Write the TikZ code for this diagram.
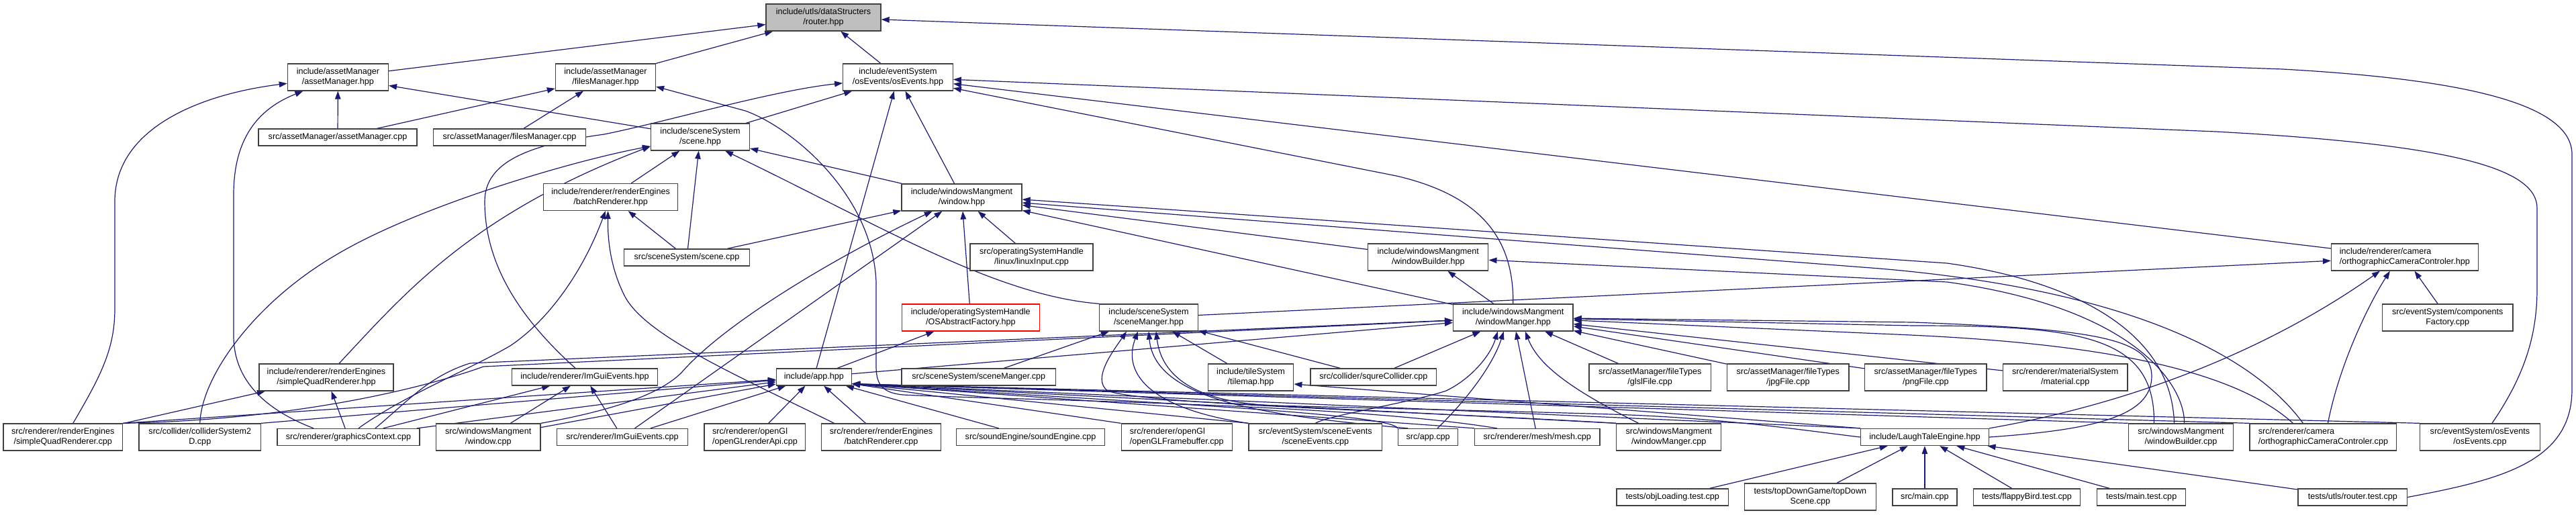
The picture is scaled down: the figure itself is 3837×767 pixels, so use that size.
\documentclass[tikz,border=0pt]{standalone}
\usepackage{fontspec}
\setmainfont{Liberation Sans}
\usetikzlibrary{arrows.meta}
\definecolor{edgeblue}{HTML}{191970}
\definecolor{nodegray}{HTML}{404040}
\definecolor{rootfill}{HTML}{BFBFBF}
\pgfdeclarelayer{bg}
\pgfsetlayers{bg,main}
\begin{document}
\begin{tikzpicture}[x=1pt,y=-1pt,
  nd/.style={draw=nodegray, line width=1.3pt, fill=white, inner sep=0pt, align=center, text=black, font=\fontsize{12.6}{15}\selectfont},
  ndl/.style={nd, align=left},
  one/.style={minimum height=25pt},
  two/.style={minimum height=40pt},
  edgeln/.style={draw=edgeblue, line width=1.2pt, -{Triangle[length=12pt,width=8.5pt]}},
]
\useasboundingbox (0,0) rectangle (3837,767);

% ---------- nodes ----------
\node[nd,two,fill=rootfill,minimum width=171pt] (router) at (1226.5,26) {include/utls/dataStructers\\/router.hpp};
\node[nd,two,minimum width=150pt] (assetH) at (503.4,115) {include/assetManager\\/assetManager.hpp};
\node[nd,two,minimum width=149pt] (filesH) at (902,115) {include/assetManager\\/filesManager.hpp};
\node[nd,two,minimum width=163.5pt] (osevH) at (1337.5,115) {include/eventSystem\\/osEvents/osEvents.hpp};
\node[nd,one,minimum width=236pt] (assetC) at (503,204.5) {src/assetManager/assetManager.cpp};
\node[nd,one,minimum width=227pt] (filesC) at (759,204.5) {src/assetManager/filesManager.cpp};
\node[nd,two,minimum width=147pt] (sceneH) at (1043,204) {include/sceneSystem\\/scene.hpp};
\node[nd,two,minimum width=200pt] (batchH) at (909.6,293.5) {include/renderer/renderEngines\\/batchRenderer.hpp};
\node[nd,one,minimum width=187pt] (sceneC) at (1023,383.5) {src/sceneSystem/scene.cpp};
\node[nd,two,minimum width=179pt] (windowH) at (1432.5,294) {include/windowsMangment\\/window.hpp};
\node[nd,two,minimum width=183pt] (linuxC) at (1536.5,383) {src/operatingSystemHandle\\/linux/linuxInput.cpp};
\node[nd,two,minimum width=179pt] (wbuildH) at (2127.3,383) {include/windowsMangment\\/windowBuilder.hpp};
\node[ndl,two,minimum width=218.7pt] (orthoH) at (3581.9,383) {include/renderer/camera\\/orthographicCameraControler.hpp};
\node[nd,two,draw=red,minimum width=205pt] (osafH) at (1445.8,473) {include/operatingSystemHandle\\/OSAbstractFactory.hpp};
\node[nd,two,minimum width=146.4pt] (scmgrH) at (1711,473) {include/sceneSystem\\/sceneManger.hpp};
\node[nd,two,minimum width=178.5pt] (wmgrH) at (2253.8,473) {include/windowsMangment\\/windowManger.hpp};
\node[nd,two,minimum width=194.8pt] (compC) at (3645.7,473) {src/eventSystem/components\\Factory.cpp};
\node[nd,two,minimum width=200pt] (sqrH) at (486,562) {include/renderer/renderEngines\\/simpleQuadRenderer.hpp};
\node[nd,one,minimum width=217pt] (imguiH) at (871,561.5) {include/renderer/ImGuiEvents.hpp};
\node[nd,one,minimum width=112pt] (appH) at (1212.4,561.5) {include/app.hpp};
\node[nd,one,minimum width=229.4pt] (scmgrC) at (1457.8,561.5) {src/sceneSystem/sceneManger.cpp};
\node[nd,two,minimum width=127.5pt] (tileH) at (1863,562) {include/tileSystem\\/tilemap.hpp};
\node[nd,one,minimum width=187.7pt] (squreC) at (2045.9,561.5) {src/collider/squreCollider.cpp};
\node[nd,two,minimum width=181.4pt] (glslC) at (2457.7,562) {src/assetManager/fileTypes\\/glslFile.cpp};
\node[nd,two,minimum width=181.4pt] (jpgC) at (2663.3,562) {src/assetManager/fileTypes\\/jpgFile.cpp};
\node[nd,two,minimum width=181.4pt] (pngC) at (2868.3,562) {src/assetManager/fileTypes\\/pngFile.cpp};
\node[nd,two,minimum width=185.6pt] (matC) at (3076.2,562) {src/renderer/materialSystem\\/material.cpp};
\node[nd,two,minimum width=177.7pt] (sqrC) at (93.8,651) {src/renderer/renderEngines\\/simpleQuadRenderer.cpp};
\node[nd,two,minimum width=181.5pt] (collC) at (297.8,651) {src/collider/colliderSystem2\\D.cpp};
\node[nd,one,minimum width=212pt] (gfxC) at (519,651) {src/renderer/graphicsContext.cpp};
\node[nd,two,minimum width=155.7pt] (winC) at (727.2,651) {src/windowsMangment\\/window.cpp};
\node[nd,one,minimum width=194.5pt] (imguiC) at (927,651) {src/renderer/ImGuiEvents.cpp};
\node[ndl,two,minimum width=150.8pt] (oglApiC) at (1124.4,651) {src/renderer/openGl\\/openGLrenderApi.cpp};
\node[nd,two,minimum width=177.4pt] (batchC) at (1312.5,651) {src/renderer/renderEngines\\/batchRenderer.cpp};
\node[nd,one,minimum width=220.6pt] (soundC) at (1535.1,651) {src/soundEngine/soundEngine.cpp};
\node[ndl,two,minimum width=165pt] (oglFbC) at (1752.7,651) {src/renderer/openGl\\/openGLFramebuffer.cpp};
\node[nd,two,minimum width=198.5pt] (scevC) at (1959.3,651) {src/eventSystem/sceneEvents\\/sceneEvents.cpp};
\node[nd,one,minimum width=89.2pt] (appC) at (2127.1,651) {src/app.cpp};
\node[nd,one,minimum width=186.5pt] (meshC) at (2289.8,651) {src/renderer/mesh/mesh.cpp};
\node[nd,two,minimum width=155.8pt] (wmgrC) at (2485.7,651) {src/windowsMangment\\/windowManger.cpp};
\node[nd,one,minimum width=191pt] (lteH) at (2866.9,651) {include/LaughTaleEngine.hpp};
\node[nd,two,minimum width=156.3pt] (wbuildC) at (3248.5,651) {src/windowsMangment\\/windowBuilder.cpp};
\node[ndl,two,minimum width=218.7pt] (orthoC) at (3460.4,651) {src/renderer/camera\\/orthographicCameraControler.cpp};
\node[nd,two,minimum width=179pt] (osevC) at (3693.9,651) {src/eventSystem/osEvents\\/osEvents.cpp};
\node[nd,one,minimum width=166.7pt] (objT) at (2491.2,740.5) {tests/objLoading.test.cpp};
\node[nd,two,minimum width=196pt] (tdsC) at (2696.4,740) {tests/topDownGame/topDown\\Scene.cpp};
\node[nd,one,minimum width=96pt] (mainC) at (2866.9,740.5) {src/main.cpp};
\node[nd,one,minimum width=159.6pt] (flapT) at (3019,740.5) {tests/flappyBird.test.cpp};
\node[nd,one,minimum width=132.2pt] (mainT) at (3189.7,740.5) {tests/main.test.cpp};
\node[nd,one,minimum width=162.6pt] (routerT) at (3504.3,740.5) {tests/utls/router.test.cpp};

% ---------- edges ----------
\begin{pgfonlayer}{bg}
% router.hpp
\draw[edgeln] (assetH) -- (router);
\draw[edgeln] (filesH) -- (router);
\draw[edgeln] (osevH) -- (router);
\draw[edgeln] (routerT.east) .. controls (3720,715) and (3831,690) .. (3831,580) -- (3831,230) .. controls (3831,150) and (3650,117) .. (3400,103) -- (router);
% assetManager.hpp
\draw[edgeln] (assetC) -- (assetH);
\draw[edgeln] (sceneH) -- (assetH);
\draw[edgeln] ([xshift=15pt]sqrC.north) .. controls (150,560) and (171,520) .. (171,460) -- (171,300) .. controls (171,190) and (300,140) .. (assetH);
\draw[edgeln] ([xshift=-52pt]gfxC.north) .. controls (400,612) and (348,570) .. (348,500) -- (348,290) .. controls (348,200) and (390,160) .. (assetH);
% filesManager.hpp
\draw[edgeln] (assetC) -- (filesH);
\draw[edgeln] (filesC) -- (filesH);
\draw[edgeln] ([xshift=-60pt]meshC.north) .. controls (2000,600) and (1500,596) .. (1345,588) .. controls (1312,585) and (1305,570) .. (1305,545) -- (1305,420) .. controls (1300,290) and (1180,190) .. (1110,165) -- ([yshift=-14pt]filesH.east);
% osEvents.hpp
\draw[edgeln] (sceneH) -- (osevH);
\draw[edgeln] (windowH) -- (osevH);
\draw[edgeln] (appH) -- (osevH);
\draw[edgeln] (orthoH) -- (osevH);
\draw[edgeln] ([xshift=-14pt]imguiH.north) .. controls (770,470) and (722,390) .. (722,300) .. controls (722,240) and (790,215) .. (900,200) .. controls (990,182) and (1150,135) .. (osevH);
\draw[edgeln] (wmgrH.north) .. controls (2255,350) and (2200,290) .. (2080,262) -- (osevH);
\draw[edgeln] ([xshift=18pt]osevC.north) .. controls (3760,560) and (3779,500) .. (3779,430) -- (3779,310) .. controls (3779,250) and (3650,215) .. (3300,196) -- (osevH);
% scene.hpp
\draw[edgeln] (batchH) -- (sceneH);
\draw[edgeln] (sceneC) -- (sceneH);
\draw[edgeln] (scmgrH.north west) .. controls (1480,440) and (1300,330) .. ([xshift=37pt]sceneH.south);
\draw[edgeln] (windowH) -- (sceneH);
\draw[edgeln] (collC.north) .. controls (300,560) and (380,450) .. (500,380) .. controls (620,308) and (850,240) .. (sceneH);
\draw[edgeln] ([xshift=19pt]sqrH.north) .. controls (600,440) and (700,320) .. ([yshift=-14pt]sceneH.west);
% batchRenderer.hpp
\draw[edgeln] (sceneC) -- (batchH);
\draw[edgeln] ([xshift=15pt]gfxC.north) .. controls (600,590) and (700,550) .. (760,515) .. controls (820,475) and (870,400) .. (batchH);
\draw[edgeln] ([xshift=-70pt]batchC.north) .. controls (1100,560) and (960,500) .. (930,440) .. controls (910,400) and (905,360) .. ([xshift=-4pt]batchH.south);
% window.hpp
\draw[edgeln] (sceneC) -- (windowH);
\draw[edgeln] (linuxC) -- (windowH);
\draw[edgeln] (osafH) -- (windowH);
\draw[edgeln] (wbuildH) -- (windowH);
\draw[edgeln] (wmgrH) -- (windowH);
\draw[edgeln] (imguiC) -- (windowH);
\draw[edgeln] (winC.north east) .. controls (920,610) and (985,585) .. (1015,555) .. controls (1080,480) and (1250,380) .. (windowH);
\draw[edgeln] ([xshift=-10pt]wbuildC.north) .. controls (3235,500) and (3100,420) .. (2900,392) -- ([yshift=-3pt]windowH.east);
\draw[edgeln] ([xshift=-30pt]orthoC.north) .. controls (3350,520) and (3150,430) .. (2800,400) -- ([yshift=-8pt]windowH.east);
% windowBuilder.hpp
\draw[edgeln] (wmgrH) -- (wbuildH);
\draw[edgeln] ([xshift=5pt]wbuildC.north) .. controls (3255,580) and (3190,460) .. (2900,420) -- (wbuildH);
% orthographicCameraControler.hpp
\draw[edgeln] (scmgrH) -- (orthoH);
\draw[edgeln] (lteH.north east) .. controls (3180,600) and (3380,520) .. ([xshift=-37pt]orthoH.south);
\draw[edgeln] ([xshift=7pt]orthoC.north) .. controls (3485,540) and (3530,450) .. ([xshift=-22pt]orthoH.south);
\draw[edgeln] (compC) -- (orthoH);
% OSAbstractFactory.hpp
\draw[edgeln] (appH) -- (osafH);
% sceneManger.hpp
\draw[edgeln] (scmgrC) -- (scmgrH);
\draw[edgeln] (tileH) -- (scmgrH);
\draw[edgeln] (squreC) -- (scmgrH);
\draw[edgeln] (scevC.north west) .. controls (1720,610) and (1670,560) .. ([xshift=-16pt]scmgrH.south);
\draw[edgeln] ([xshift=-30pt]appC.north) .. controls (1900,620) and (1720,600) .. (scmgrH.south);
\draw[edgeln] (lteH.west) .. controls (2680,640) and (2560,622) .. (2400,617) .. controls (2200,611) and (2000,607) .. (1900,604) .. controls (1780,600) and (1730,560) .. ([xshift=11pt]scmgrH.south);
\draw[edgeln] (wmgrC.north west) .. controls (2100,612) and (1700,602) .. (1650,582) .. controls (1625,565) and (1660,520) .. ([xshift=-33pt]scmgrH.south);
% windowManger.hpp
\draw[edgeln] (sqrC.north east) .. controls (450,625) and (640,575) .. (720,546) -- (wmgrH);
\draw[edgeln] ([xshift=40pt]gfxC.north) .. controls (610,595) and (640,560) .. (700,541) -- (wmgrH);
\draw[edgeln] (appH) -- (wmgrH);
\draw[edgeln] (squreC) -- (wmgrH);
\draw[edgeln] ([xshift=14pt]appC.north) .. controls (2190,590) and (2225,540) .. ([xshift=-14pt]wmgrH.south);
\draw[edgeln] (meshC) -- (wmgrH);
\draw[edgeln] ([xshift=-45pt]wmgrC.north) .. controls (2330,575) and (2290,540) .. ([xshift=18pt]wmgrH.south);
\draw[edgeln] (glslC) -- (wmgrH);
\draw[edgeln] (jpgC) -- (wmgrH);
\draw[edgeln] (pngC) -- (wmgrH);
\draw[edgeln] (matC) -- (wmgrH);
\draw[edgeln] ([xshift=-40pt]wbuildC.north) .. controls (3210,500) and (3100,485) .. (2850,485) -- (wmgrH);
\draw[edgeln] ([xshift=-45pt]orthoC.north) .. controls (3300,525) and (3000,505) .. (2800,497) -- (wmgrH);
\draw[edgeln] (lteH.east) .. controls (3120,640) and (3205,620) .. (3205,560) .. controls (3205,500) and (3100,490) .. (2850,480) -- (wmgrH);
\draw[edgeln] (scevC.north) .. controls (1980,618) and (2100,600) .. (2154,582) .. controls (2190,565) and (2220,530) .. ([xshift=-23pt]wmgrH.south);
% simpleQuadRenderer.hpp
\draw[edgeln] (sqrC) -- (sqrH);
\draw[edgeln] (gfxC) -- (sqrH);
% ImGuiEvents.hpp
\draw[edgeln] (gfxC) -- (imguiH);
\draw[edgeln] (winC) -- (imguiH);
\draw[edgeln] (imguiC) -- (imguiH);
% app.hpp
\draw[edgeln] (sqrC.north east) -- (appH);
\draw[edgeln] (collC.north east) -- (appH);
\draw[edgeln] (gfxC) -- (appH);
\draw[edgeln] (winC) -- (appH);
\draw[edgeln] (imguiC) -- (appH);
\draw[edgeln] (oglApiC) -- (appH);
\draw[edgeln] (batchC) -- (appH);
\draw[edgeln] (soundC) -- (appH);
\draw[edgeln] (oglFbC.north west) -- ([yshift=3pt]appH.south east);
\draw[edgeln] (scevC.north west) -- ([yshift=3pt]appH.south east);
\draw[edgeln] (appC.north west) .. controls (2070,615) and (1700,600) .. ([yshift=3pt]appH.south east);
\draw[edgeln] (meshC.north west) -- ([yshift=3pt]appH.south east);
\draw[edgeln] (wmgrC.north west) -- ([yshift=3pt]appH.south east);
\draw[edgeln] (lteH.north west) -- ([yshift=3pt]appH.south east);
\draw[edgeln] (wbuildC.north west) -- ([yshift=3pt]appH.south east);
\draw[edgeln] (orthoC.north west) -- ([yshift=3pt]appH.south east);
\draw[edgeln] (osevC.north west) -- ([yshift=3pt]appH.south east);
% tilemap.hpp
\draw[edgeln] (lteH.north west) -- ([yshift=-10pt]tileH.east);
% LaughTaleEngine.hpp
\draw[edgeln] (objT) -- (lteH);
\draw[edgeln] (tdsC) -- (lteH);
\draw[edgeln] (mainC) -- (lteH);
\draw[edgeln] (flapT) -- (lteH);
\draw[edgeln] (mainT) -- (lteH);
\draw[edgeln] (routerT) -- (lteH);
\end{pgfonlayer}
\end{tikzpicture}
\end{document}
